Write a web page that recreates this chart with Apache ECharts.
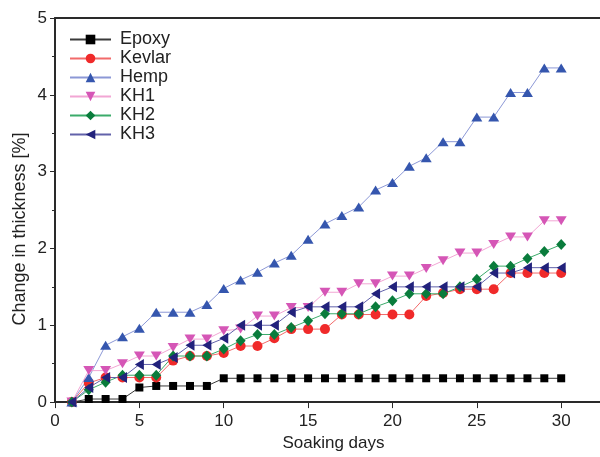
<!DOCTYPE html>
<html>
<head>
<meta charset="utf-8">
<script src="https://cdn.jsdelivr.net/npm/echarts@6/dist/echarts.min.js"></script>
<style>
  html, body { margin: 0; padding: 0; background: #fff; }
  #chart { width: 600px; height: 457px; }
</style>
</head>
<body>
<div id="chart"></div>
<script>
// Soaking days 1..30
const days = [1,2,3,4,5,6,7,8,9,10,11,12,13,14,15,16,17,18,19,20,21,22,23,24,25,26,27,28,29,30];

// Change in thickness [%] per material
const epoxy  = [0,0.04,0.04,0.04,0.19,0.21,0.21,0.21,0.21,0.31,0.31,0.31,0.31,0.31,0.31,0.31,0.31,0.31,0.31,0.31,0.31,0.31,0.31,0.31,0.31,0.31,0.31,0.31,0.31,0.31];
const kevlar = [0,0.25,0.32,0.32,0.32,0.32,0.54,0.60,0.60,0.64,0.73,0.73,0.83,0.95,0.95,0.95,1.14,1.14,1.14,1.14,1.14,1.38,1.42,1.47,1.47,1.47,1.68,1.68,1.68,1.68];
const hemp   = [0,0.32,0.74,0.85,0.96,1.17,1.17,1.17,1.27,1.48,1.59,1.69,1.81,1.91,2.12,2.32,2.43,2.54,2.76,2.86,3.07,3.18,3.39,3.39,3.71,3.71,4.03,4.03,4.35,4.35];
const kh1    = [0,0.41,0.41,0.50,0.60,0.60,0.71,0.82,0.82,0.93,0.95,1.12,1.12,1.23,1.23,1.43,1.43,1.54,1.54,1.64,1.64,1.74,1.84,1.94,1.94,2.05,2.15,2.15,2.36,2.36];
const kh2    = [0,0.16,0.26,0.35,0.35,0.35,0.60,0.60,0.60,0.69,0.80,0.88,0.88,0.97,1.06,1.15,1.15,1.15,1.24,1.32,1.41,1.41,1.41,1.50,1.60,1.77,1.77,1.87,1.96,2.05];
const kh3    = [0,0.19,0.32,0.32,0.49,0.49,0.58,0.74,0.74,0.83,1.00,1.00,1.00,1.17,1.24,1.24,1.24,1.24,1.41,1.50,1.50,1.50,1.50,1.50,1.50,1.68,1.68,1.75,1.75,1.75];

const xTicks = [0, 5, 10, 15, 20, 25, 30];
const yTicks = [0, 1, 2, 3, 4, 5];

const FONT = '"Liberation Sans", Arial, sans-serif';
const TEXT = '#222';
const AXIS = '#2a2a2a';

function pairs(vals) {
  return days.map((d, i) => [d, vals[i]]);
}

function lineSeries(name, vals, lineColor, markColor, symbol, size, rotate) {
  return {
    name: name,
    type: 'line',
    data: pairs(vals),
    symbol: symbol,
    symbolSize: size,
    symbolRotate: rotate || 0,
    showAllSymbol: true,
    lineStyle: { color: lineColor, width: 1 },
    itemStyle: { color: markColor, borderWidth: 0 },
    emphasis: { disabled: true },
    z: 2
  };
}

const chart = echarts.init(document.getElementById('chart'), null, { renderer: 'canvas' });

chart.setOption({
  animation: false,
  backgroundColor: '#fff',
  textStyle: { fontFamily: FONT },
  grid: { left: 55, right: 0, top: 18, bottom: 54 },
  legend: {
    orient: 'vertical',
    left: 69,
    top: 30,
    padding: 0,
    itemWidth: 41,
    itemHeight: 12,
    itemGap: 0,
    textStyle: { fontFamily: FONT, fontSize: 18, color: TEXT, lineHeight: 19, padding: [0, 0, 0, 4] },
    data: ['Epoxy', 'Kevlar', 'Hemp', 'KH1', 'KH2', 'KH3']
  },
  xAxis: [{
    type: 'value',
    min: 0,
    max: 32.3,
    interval: 5,
    name: 'Soaking days',
    nameLocation: 'middle',
    nameGap: 29,
    nameTextStyle: { fontFamily: FONT, fontSize: 17, color: TEXT, padding: [0, 0, 0, 12] },
    axisLine: { show: true, onZero: false, lineStyle: { color: AXIS, width: 2 } },
    axisTick: { show: true, inside: false, length: 6, lineStyle: { color: AXIS, width: 1 } },
    axisLabel: {
      margin: 11,
      fontFamily: FONT, fontSize: 17, color: TEXT,
      showMaxLabel: false,
      formatter: v => (xTicks.indexOf(v) >= 0 ? String(v) : '')
    },
    splitLine: { show: false }
  }, {
    type: 'value',
    position: 'top',
    min: 0,
    max: 32.3,
    axisLine: { show: true, onZero: false, lineStyle: { color: AXIS, width: 2 } },
    axisTick: { show: false },
    axisLabel: { show: false },
    splitLine: { show: false }
  }],
  yAxis: {
    type: 'value',
    min: 0,
    max: 5,
    interval: 1,
    axisLine: { show: true, onZero: false, lineStyle: { color: AXIS, width: 2 } },
    axisTick: { show: true, inside: false, length: 5, lineStyle: { color: AXIS, width: 1 } },
    minorTick: { show: true, splitNumber: 2, length: 3, lineStyle: { color: AXIS, width: 1 } },
    axisLabel: {
      margin: 8,
      fontFamily: FONT, fontSize: 17, color: TEXT,
      formatter: v => (yTicks.indexOf(v) >= 0 ? String(v) : '')
    },
    splitLine: { show: false }
  },
  graphic: [{
    type: 'text',
    x: 20,
    y: 229,
    rotation: Math.PI / 2,
    style: {
      text: 'Change in thickness [%]',
      font: '18px ' + FONT,
      fill: TEXT,
      align: 'center',
      verticalAlign: 'middle'
    }
  }],
  series: [
    lineSeries('Epoxy',  epoxy,  '#3a3a3a', '#000000', 'rect',     8),
    lineSeries('Kevlar', kevlar, '#f26a6a', '#f02a2a', 'circle',   10),
    lineSeries('Hemp',   hemp,   '#8c98d6', '#3556ae', 'triangle', [11, 9]),
    lineSeries('KH1',    kh1,    '#f2a6d4', '#d556b6', 'triangle', [11, 9], 180),
    lineSeries('KH2',    kh2,    '#3bab6a', '#0a7c3c', 'diamond',  [10, 11]),
    lineSeries('KH3',    kh3,    '#6262aa', '#22227c', 'triangle', [11, 9], 90)
  ]
});
</script>
</body>
</html>
